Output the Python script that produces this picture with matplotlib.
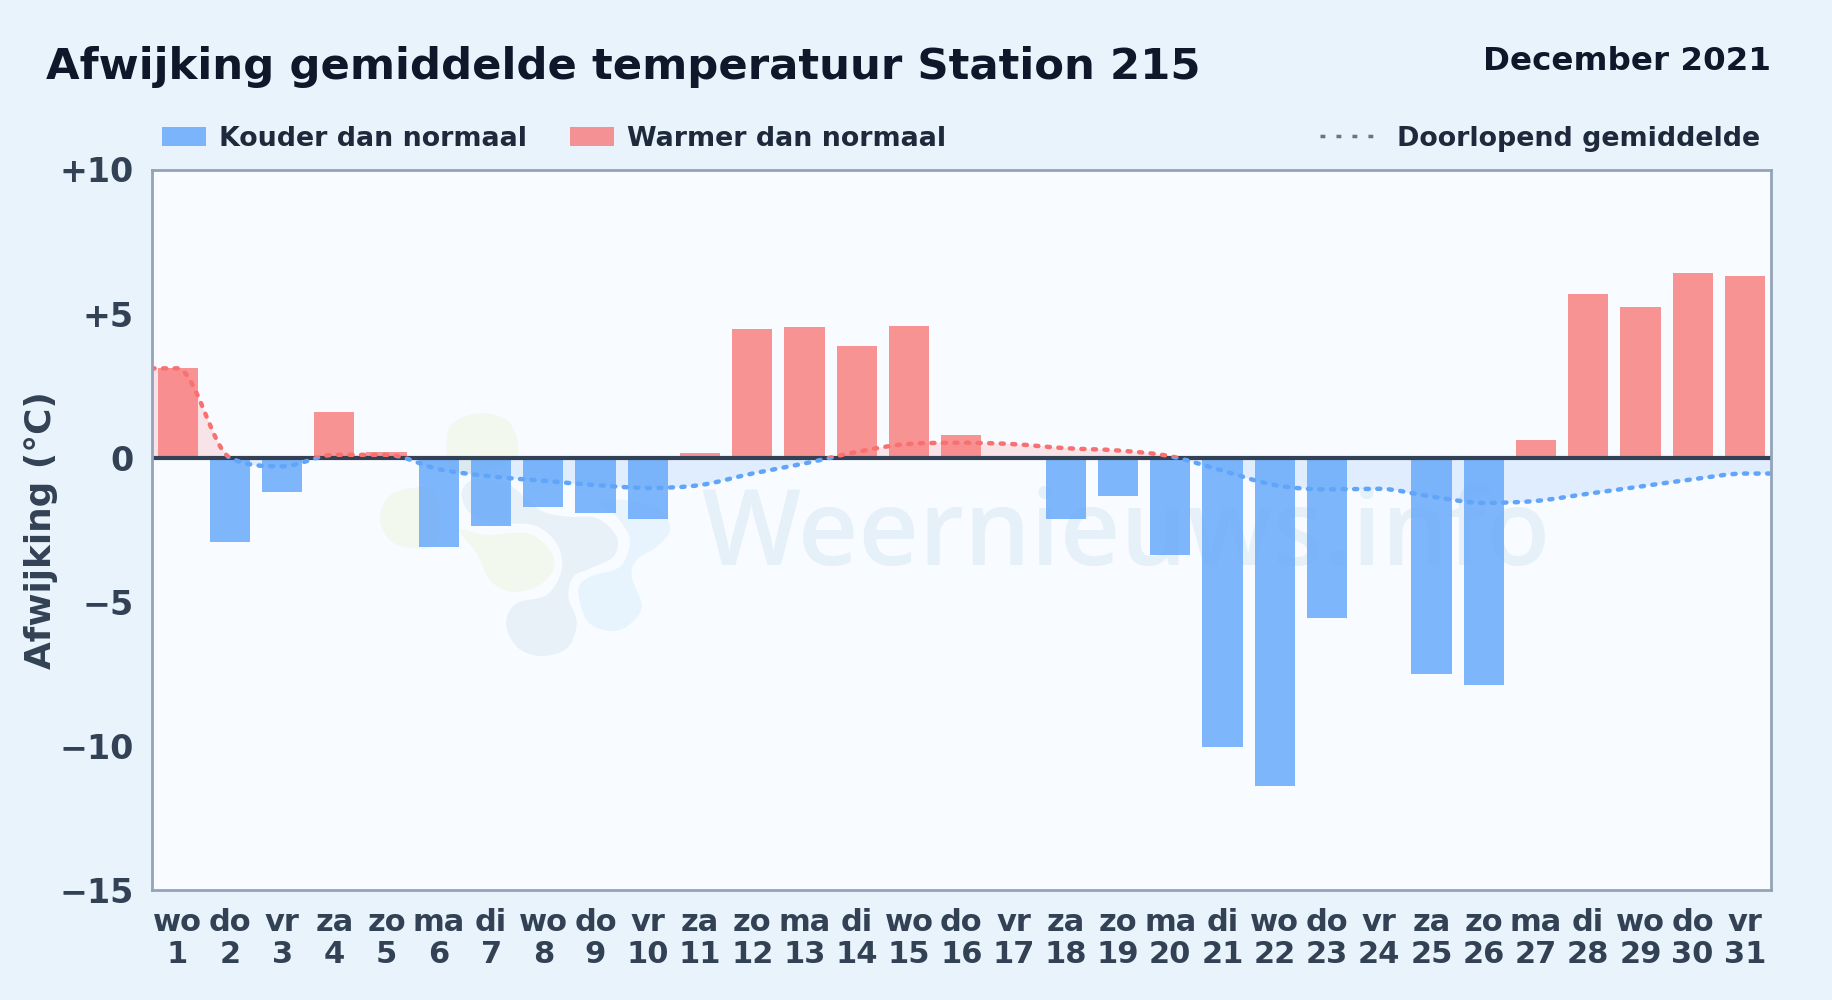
#!/usr/bin/env python3
# -*- coding: utf-8 -*-

"""
Afwijking gemiddelde temperatuur, december 2021
"""

import matplotlib
matplotlib.use('Agg')
import matplotlib.pyplot as plt
from matplotlib.lines import Line2D
from matplotlib.patches import PathPatch, Rectangle
from matplotlib.path import Path
from matplotlib.transforms import IdentityTransform

# data
days = list(range(1, 32))
weekdays = ['wo', 'do', 'vr', 'za', 'zo', 'ma', 'di', 'wo', 'do', 'vr', 'za',
            'zo', 'ma', 'di', 'wo', 'do', 'vr', 'za', 'zo', 'ma', 'di', 'wo',
            'do', 'vr', 'za', 'zo', 'ma', 'di', 'wo', 'do', 'vr']
afwijking = [3.1, -2.93, -1.2, 1.58, 0.2, -3.1, -2.38, -1.72, -1.93, -2.13, 0.15,
             4.45, 4.53, 3.88, 4.57, 0.8, 0.0, -2.13, -1.33, -3.37, -10.05, -11.4,
             -5.55, 0.0, -7.5, -7.9, 0.6, 5.67, 5.22, 6.4, 6.32]
gemiddelde = [3.1, 0.0, -0.3, 0.1, 0.1, -0.4, -0.65, -0.8, -0.95, -1.05, -0.95,
              -0.55, -0.2, 0.2, 0.48, 0.52, 0.47, 0.33, 0.25, 0.05, -0.45, -0.95,
              -1.1, -1.08, -1.35, -1.57, -1.5, -1.25, -1.0, -0.75, -0.55]
ytick_values = [10, 5, 0, -5, -10, -15]
ytick_labels = ['+10', '+5', '0', '\u22125', '\u221210', '\u221215']

BLUE = '#60a5fa'
RED = '#f87171'
W, H = 1832, 1000

# logo shapes of the watermark, pixels of the picture
logo_green = [
    [(262, 130), (300, 85), (370, 70), (440, 90), (472, 150), (465, 210),
     (380, 240), (330, 250), (270, 240)],
    [(60, 380), (85, 320), (150, 295), (220, 300), (240, 400), (220, 470),
     (130, 470), (80, 440)],
    [(300, 420), (380, 435), (500, 430), (570, 480), (580, 540), (530, 590),
     (450, 605), (390, 570), (350, 490)],
]
logo_gray = [(305, 310), (340, 270), (440, 280), (540, 360), (620, 380), (710, 385),
             (770, 440), (760, 500), (690, 535), (640, 560), (625, 620), (650, 700),
             (620, 775), (540, 798), (470, 770), (438, 700), (470, 640), (560, 615),
             (605, 540), (590, 460), (520, 405), (400, 400), (330, 370)]
logo_blue = [(655, 600), (690, 560), (780, 530), (810, 450), (770, 380), (720, 340),
             (800, 330), (900, 360), (930, 420), (890, 470), (830, 510), (815, 560),
             (845, 650), (800, 710), (740, 722), (680, 690)]


def smooth_path(xs, ys):
    # monotone bezier through the values, flat at local extremes
    slopes = []
    for i in range(len(xs)):
        if i == 0 or i == len(xs) - 1:
            slopes.append(0.0)
            continue
        d0 = (ys[i] - ys[i - 1]) / (xs[i] - xs[i - 1])
        d1 = (ys[i + 1] - ys[i]) / (xs[i + 1] - xs[i])
        if d0 * d1 <= 0:
            slopes.append(0.0)
        else:
            limit = 3 * min(abs(d0), abs(d1))
            avg = (d0 + d1) / 2.0
            slopes.append(max(-limit, min(limit, avg)))
    verts = [(xs[0], ys[0])]
    codes = [Path.MOVETO]
    for i in range(len(xs) - 1):
        h = (xs[i + 1] - xs[i]) / 3.0
        verts += [(xs[i] + h, ys[i] + slopes[i] * h),
                  (xs[i + 1] - h, ys[i + 1] - slopes[i + 1] * h),
                  (xs[i + 1], ys[i + 1])]
        codes += [Path.CURVE4] * 3
    return verts, codes


def blob(ax, points, color):
    # closed catmull-rom shape from zoomed crop coordinates
    px = [(360 + x / 3.0, H - (390 + y / 3.0)) for x, y in points]
    n = len(px)
    verts = [px[0]]
    codes = [Path.MOVETO]
    for i in range(n):
        p0, p1, p2, p3 = px[i - 1], px[i], px[(i + 1) % n], px[(i + 2) % n]
        verts += [(p1[0] + (p2[0] - p0[0]) / 6.0, p1[1] + (p2[1] - p0[1]) / 6.0),
                  (p2[0] - (p3[0] - p1[0]) / 6.0, p2[1] - (p3[1] - p1[1]) / 6.0),
                  p2]
        codes += [Path.CURVE4] * 3
    ax.add_patch(PathPatch(Path(verts, codes), facecolor=color, edgecolor='none',
                           transform=IdentityTransform(), zorder=0.5))


fig = plt.figure(figsize=(W / 100.0, H / 100.0), dpi=100, facecolor='#e8f3fc')
left = 151.5
ax = fig.add_axes([left / W, 1 - 890.0 / H, (1771 - left) / W, (890 - 169.5) / H],
                  facecolor='#f8fbff')
ax.set_xlim(0.5, 31.5)
ax.set_ylim(-15, 10)

# watermark
for shape in logo_green:
    blob(ax, shape, '#f3f8ef')
blob(ax, logo_gray, '#e8f0f8')
blob(ax, logo_blue, '#e8f4fd')
ax.text(701, H - 565, 'Weernieuws.info', fontsize=75.4, color='#e6f0f8',
        family='Open Sans', fontweight='semibold', transform=IdentityTransform(),
        zorder=0.6, ha='left', va='baseline')

ax.set_yticks([5, -5, -10], minor=True)
ax.grid(True, axis='y', which='minor', color='#dfe5ec', lw=1.6, zorder=0.7)
ax.set_axisbelow(True)

# bars
kouder = [v if v < 0 else 0 for v in afwijking]
warmer = [v if v > 0 else 0 for v in afwijking]
bars_k = ax.bar(days, kouder, width=0.77, color=BLUE, alpha=0.8, zorder=2, lw=0)
bars_w = ax.bar(days, warmer, width=0.77, color=RED, alpha=0.75, zorder=2, lw=0)

# running mean, red above zero and blue below
xs = [0.5] + days + [31.5]
ys = [gemiddelde[0]] + gemiddelde + [gemiddelde[-1]]
verts, codes = smooth_path(xs, ys)
fill_verts = verts + [(xs[-1], 0), (xs[0], 0), (xs[0], 0)]
fill_codes = codes + [Path.LINETO, Path.LINETO, Path.CLOSEPOLY]
for color, y0, height in [(RED, 0, 10), (BLUE, -15, 15)]:
    clip = Rectangle((0.5, y0), 31, height, transform=ax.transData)
    area = PathPatch(Path(fill_verts, fill_codes), facecolor=color, alpha=0.16,
                     edgecolor='none', zorder=1)
    ax.add_patch(area)
    area.set_clip_path(clip)
    curve = PathPatch(Path(verts, codes), facecolor='none', edgecolor=color, lw=3.2,
                      linestyle=(0, (0.7, 1.9)), capstyle='round', zorder=4)
    ax.add_patch(curve)
    curve.set_clip_path(clip)

ax.axhline(0, color='#334155', lw=3.0, zorder=3)

# axes text
ax.set_xticks(days)
ax.set_xticklabels(['{}\n{}'.format(w, d) for w, d in zip(weekdays, days)],
                   fontsize=22, fontweight='bold', color='#334155', linespacing=1.12)
ax.set_yticks(ytick_values)
ax.set_yticklabels(ytick_labels, fontsize=24, fontweight='bold', color='#334155')
ax.tick_params(axis='both', which='both', length=0)
ax.tick_params(axis='x', pad=13)
ax.tick_params(axis='y', pad=13)
ax.set_ylabel('Afwijking (\u00b0C)', fontsize=25.8, fontweight='bold', color='#334155')
ax.yaxis.set_label_coords((58 - left) / (1771 - left), 0.5)
for spine in ax.spines.values():
    spine.set_color('#94a3b8')
    spine.set_linewidth(2)
    spine.set_zorder(5)

fig.text(46 / W, 1 - 79.0 / H, 'Afwijking gemiddelde temperatuur Station 215',
         fontsize=31.2, fontweight='bold', color='#0f172a', va='baseline')
fig.text(1771 / W, 1 - 70.0 / H, 'December 2021', fontsize=23.4, fontweight='bold',
         color='#0f172a', ha='right', va='baseline')

# legends
leg_font = {'size': 19.4, 'weight': 'bold'}
leg1 = fig.legend([bars_k, bars_w], ['Kouder dan normaal', 'Warmer dan normaal'],
                  loc='center left', bbox_to_anchor=(162.0 / W, 1 - 138.5 / H),
                  ncol=2, frameon=False, prop=leg_font, labelcolor='#1e293b',
                  borderpad=0, borderaxespad=0, handlelength=1.62, handleheight=0.7,
                  handletextpad=0.5, columnspacing=1.6)
dots = Line2D([], [], color='#64748b', lw=2.5, linestyle=(0, (1.4, 3.2)))
fig.legend([dots], ['Doorlopend gemiddelde'], loc='center right',
           bbox_to_anchor=(1760.0 / W, 1 - 138.5 / H), frameon=False, prop=leg_font,
           labelcolor='#1e293b', borderpad=0, borderaxespad=0, handlelength=2.07,
           handletextpad=0.78)

fig.savefig('out.png', dpi=100, facecolor=fig.get_facecolor())
